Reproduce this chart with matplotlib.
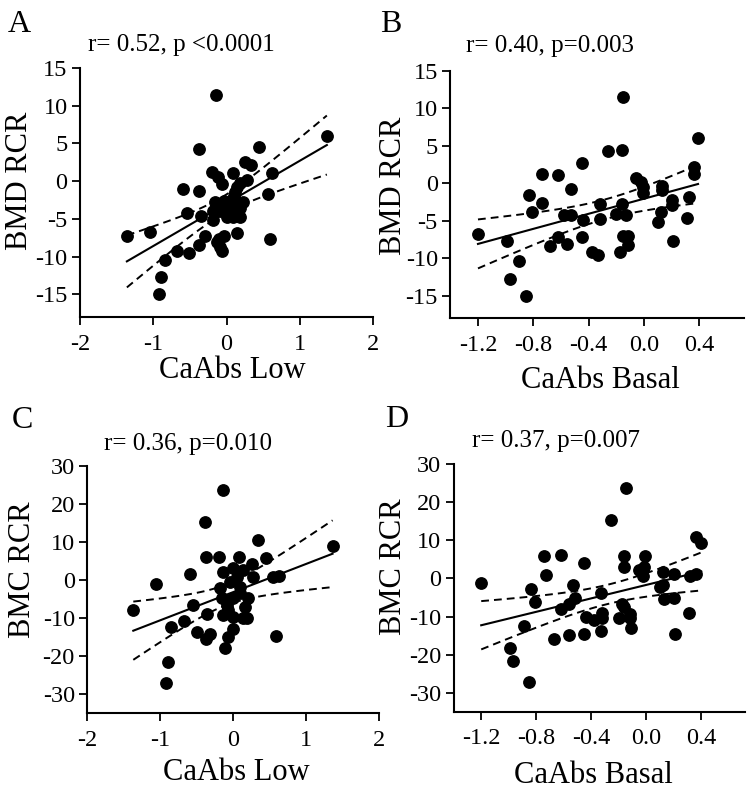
import numpy as np
import matplotlib
matplotlib.use("Agg")
import matplotlib.pyplot as plt

plt.rcParams['font.family'] = ['Liberation Serif', 'DejaVu Serif']
plt.rcParams['axes.unicode_minus'] = False

# ---------------- data ----------------
a_x = [-1.36, -1.05, -0.92, -0.90, -0.84, -0.67, -0.51, -0.60, -0.54, -0.38,
       -0.37, -0.35, -0.37, -0.30, -0.14, -0.20, -0.12, -0.06, -0.18, -0.18,
       -0.16, -0.04, -0.09, 0.00, -0.13, -0.09, -0.06, -0.04, -0.10, 0.09,
       0.19, 0.14, 0.12, 0.10, 0.07, 0.05, 0.09, 0.19, 0.19, 0.23,
       0.14, 0.28, 0.25, 0.34, 0.45, 0.56, 0.59, 0.62, 1.37, 0.12, 0.02]
a_y = [-7.2, -6.7, -15.0, -12.7, -10.4, -9.2, -9.5, -1.0, -4.2, 4.3,
       -1.3, -4.6, -8.4, -7.2, 11.4, 1.2, 0.6, -0.4, -3.9, -5.1,
       -2.8, -2.6, -4.0, -4.7, -8.0, -8.7, -9.2, -7.2, -7.6, 1.1,
       -0.3, -0.75, -1.4, -1.9, -2.5, -4.1, -4.7, -4.7, -3.6, -2.8,
       -6.9, 0.2, 2.6, 2.1, 4.5, -1.7, -7.7, 1.1, 6.0, -3.0, -3.4]

b_x = [-1.20, -0.99, -0.90, -0.97, -0.85, -0.83, -0.81, -0.74, -0.74, -0.62,
       -0.68, -0.62, -0.56, -0.53, -0.45, -0.575, -0.53, -0.44, -0.45, -0.375,
       -0.33, -0.32, -0.32, -0.26, -0.16, -0.153, -0.157, -0.20, -0.133, -0.153,
       -0.117, -0.117, -0.177, -0.056, -0.02, -0.008, -0.008, 0.10, 0.13, 0.13,
       0.125, 0.20, 0.20, 0.21, 0.31, 0.325, 0.36, 0.36, 0.39]
b_y = [-6.7, -7.65, -10.3, -12.8, -15.0, -1.5, -3.8, 1.3, -2.6, 1.1,
       -8.3, -7.2, -8.1, -0.7, 2.7, -4.2, -4.2, -4.9, -7.2, -9.1,
       -9.5, -2.7, -4.8, 4.35, 4.5, 11.5, -2.7, -4.1, -4.2, -7.0,
       -7.0, -8.2, -9.1, 0.67, 0.2, -0.45, -1.3, -5.1, -0.3, -0.9,
       -3.8, -2.2, -2.9, -7.7, -4.6, -1.8, 2.2, 1.2, 6.0]

c_x = [-1.37, -1.06, -0.92, -0.90, -0.86, -0.675, -0.59, -0.55, -0.50, -0.39,
       -0.38, -0.36, -0.37, -0.32, -0.20, -0.145, -0.137, -0.18, -0.16, -0.137,
       -0.114, -0.068, -0.068, -0.045, 0.00, 0.00, 0.00, 0.046, 0.09, 0.09,
       0.082, 0.137, 0.137, 0.16, 0.205, 0.183, 0.25, 0.274, 0.34, 0.45,
       0.55, 0.62, 0.585, 1.36, 0.00, -0.09]
c_y = [-8.0, -1.0, -27.1, -21.6, -12.4, -10.7, 1.7, -6.6, -13.6, 15.1,
       6.0, -8.9, -15.6, -14.3, 6.0, 23.6, 2.2, -2.2, -4.8, -9.2,
       -17.9, -14.9, -7.9, -0.4, 3.1, -4.8, -9.6, 0.9, -1.8, -3.5,
       6.0, 2.6, -10.1, -7.0, -4.8, -10.1, 4.2, 0.9, 10.6, 5.9,
       0.9, 1.0, -14.7, 9.0, -12.8, -6.6]

d_x = [-1.20, -0.99, -0.97, -0.85, -0.89, -0.835, -0.81, -0.74, -0.73, -0.67,
       -0.62, -0.62, -0.56, -0.53, -0.56, -0.52, -0.45, -0.45, -0.44, -0.38,
       -0.32, -0.32, -0.33, -0.33, -0.26, -0.15, -0.165, -0.165, -0.20, -0.18,
       -0.16, -0.12, -0.12, -0.11, -0.006, -0.05, -0.02, -0.025, 0.12, 0.125,
       0.13, 0.10, 0.20, 0.205, 0.21, 0.31, 0.32, 0.36, 0.36, 0.40]
d_y = [-1.15, -18.3, -21.7, -27.3, -12.5, -2.8, -6.3, 6.0, 0.9, -15.8,
       6.1, -7.9, -14.8, -1.6, -6.6, -5.0, 4.1, -14.5, -10.1, -11.0,
       -10.4, -9.1, -13.9, -3.8, 15.4, 23.7, 5.9, 2.9, -10.4, -6.6,
       -7.5, -9.2, -10.5, -13.0, 6.0, 2.2, 3.1, 0.6, 1.7, -1.8,
       -5.3, -2.2, 1.3, -5.0, -14.7, -9.1, 0.6, 1.1, 10.8, 9.2]

letters = ['A', 'B', 'C', 'D']
stats = ['r= 0.52, p <0.0001', 'r= 0.40, p=0.003', 'r= 0.36, p=0.010', 'r= 0.37, p=0.007']
x_labels = ['CaAbs Low', 'CaAbs Basal', 'CaAbs Low', 'CaAbs Basal']
y_labels = ['BMD RCR', 'BMD RCR', 'BMC RCR', 'BMC RCR']
low_ticks = [-2, -1, 0, 1, 2]
basal_ticks = [-1.2, -0.8, -0.4, 0.0, 0.4]
bmd_ticks = [-15, -10, -5, 0, 5, 10, 15]
bmc_ticks = [-30, -20, -10, 0, 10, 20, 30]
T_CRIT = 2.01

# ---------------- figure ----------------
W, H = 754, 793
fig = plt.figure(figsize=(W / 100, H / 100), dpi=100)


def px_rect(l, t, r, b):
    return [l / W, 1 - b / H, (r - l) / W, (b - t) / H]


rects = [px_rect(80, 68, 373, 317), px_rect(450.3, 71, 743.7, 318.3),
         px_rect(87.3, 465.7, 379.3, 713.3), px_rect(453.7, 464.3, 745.3, 711.7)]
datasets = [(a_x, a_y), (b_x, b_y), (c_x, c_y), (d_x, d_y)]
xlims = [(-2, 2), (-1.4, 0.72), (-2, 2), (-1.4, 0.72)]
ylims = [(-18, 15), (-18, 15), (-35, 30), (-35, 30)]
xticks = [low_ticks, basal_ticks, low_ticks, basal_ticks]
yticks = [bmd_ticks, bmd_ticks, bmc_ticks, bmc_ticks]
xfmt = ['{:.0f}', '{:.1f}', '{:.0f}', '{:.1f}']
xlab_pos = [(0.519, -0.245), (0.512, -0.282), (0.511, -0.269), (0.48, -0.288)]
ylab_pos = [(-0.208, 0.546), (-0.195, 0.535), (-0.222, 0.579), (-0.205, 0.586)]
stat_pos = [(88, 50.7), (466.3, 51.7), (104, 450), (472, 446.7)]
letter_pos = [(8, 31.7), (380, 31.7), (11.7, 428.3), (385, 426.7)]

for i in range(4):
    ax = fig.add_axes(rects[i])
    x = np.array(datasets[i][0], float)
    y = np.array(datasets[i][1], float)
    n = len(x)
    slope, icpt = np.polyfit(x, y, 1)
    xs = np.linspace(x.min(), x.max(), 100)
    yhat = icpt + slope * xs
    resid = y - (icpt + slope * x)
    s = np.sqrt(np.sum(resid ** 2) / (n - 2))
    sxx = np.sum((x - x.mean()) ** 2)
    half = T_CRIT * s * np.sqrt(1.0 / n + (xs - x.mean()) ** 2 / sxx)

    ax.plot(x, y, 'o', color='black', markersize=8.2, clip_on=False, zorder=3)
    ax.plot(xs, yhat, '-', color='black', lw=1.5, zorder=4)
    ax.plot(xs, yhat + half, color='black', lw=1.4, linestyle=(0, (4, 2.6)), zorder=4)
    ax.plot(xs, yhat - half, color='black', lw=1.4, linestyle=(0, (4, 2.6)), zorder=4)

    ax.set_xlim(*xlims[i])
    ax.set_ylim(*ylims[i])
    ax.set_xticks(xticks[i])
    ax.set_xticklabels([xfmt[i].format(v) for v in xticks[i]])
    ax.set_yticks(yticks[i])
    ax.set_yticklabels([str(v) for v in yticks[i]])
    for sp in ['top', 'right']:
        ax.spines[sp].set_visible(False)
    for sp in ['left', 'bottom']:
        ax.spines[sp].set_linewidth(1.5)
    ax.tick_params(direction='out', length=6, width=1.3, labelsize=17.5)
    ax.tick_params(axis='x', pad=6)
    ax.tick_params(axis='y', pad=3)

    ax.set_xlabel(x_labels[i], fontsize=22)
    ax.xaxis.set_label_coords(*xlab_pos[i])
    ax.xaxis.label.set_verticalalignment('baseline')
    ax.set_ylabel(y_labels[i], fontsize=22)
    ax.yaxis.set_label_coords(*ylab_pos[i])
    ax.yaxis.label.set_verticalalignment('center')

    sx, sy = stat_pos[i]
    fig.text(sx / W, 1 - sy / H, stats[i], fontsize=18, ha='left', va='baseline')
    lx, ly = letter_pos[i]
    fig.text(lx / W, 1 - ly / H, letters[i], fontsize=23, ha='left', va='baseline')

fig.savefig('out.png', dpi=100)
